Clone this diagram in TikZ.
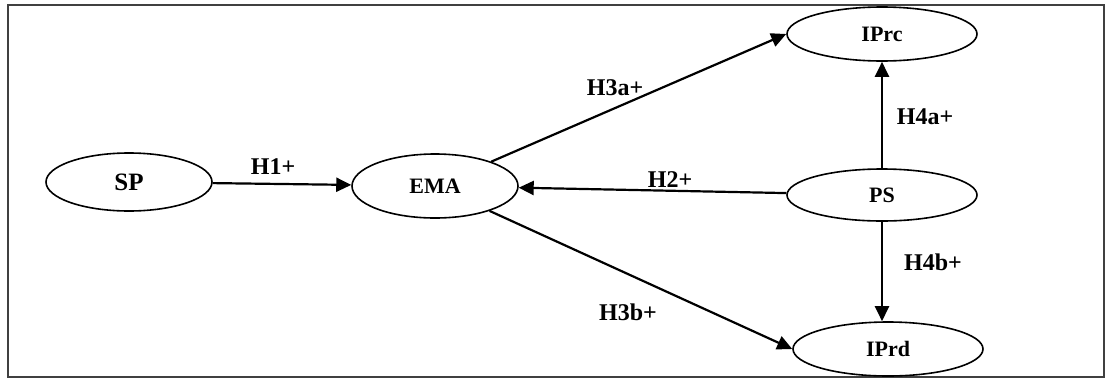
\documentclass[tikz,border=0pt]{standalone}
\usepackage{fontspec}
\setmainfont{Liberation Serif}
\usetikzlibrary{shapes.geometric,arrows.meta}
\begin{document}
\begin{tikzpicture}[x=1pt,y=-1pt,
  var/.style={draw, ellipse, line width=1.6pt, inner sep=0pt, font=\fontsize{22}{24}\selectfont\bfseries},
  lab/.style={inner sep=0pt, font=\fontsize{24}{26}\selectfont\bfseries},
  conn/.style={line width=2.2pt, -{Triangle[length=15pt,width=14pt]}}]
\useasboundingbox (0,0) rectangle (1107,378);
\draw[line width=1.6pt, black!75] (8,5) rectangle (1104,377);
\node[var, minimum width=166pt, minimum height=58pt, font=\fontsize{25}{27}\selectfont\bfseries] (SP) at (129,182) {SP};
\node[var, minimum width=166pt, minimum height=64pt] (EMA) at (435,186) {EMA};
\node[var, minimum width=190pt, minimum height=54pt] (IPrc) at (882,34) {IPrc};
\node[var, minimum width=190pt, minimum height=52pt] (PS) at (882,195) {PS};
\node[var, minimum width=190pt, minimum height=54pt] (IPrd) at (888,349) {IPrd};
\draw[conn] (SP) -- (EMA);
\draw[conn] (EMA) -- (IPrc.west);
\draw[conn] (EMA) -- (IPrd.west);
\draw[conn] (PS) -- (EMA);
\draw[conn] (PS) -- (IPrc);
\draw[conn] (PS.south) -- (PS.south |- IPrd.north);
\node[lab] (l1) at (273,167) {H1+};
\node[lab] (l3a) at (615,88) {H3a+};
\node[lab] (l2) at (670,180) {H2+};
\node[lab] (l3b) at (628,312) {H3b+};
\node[lab] (l4a) at (925,117) {H4a+};
\node[lab] (l4b) at (933,262) {H4b+};
\end{tikzpicture}
\end{document}
